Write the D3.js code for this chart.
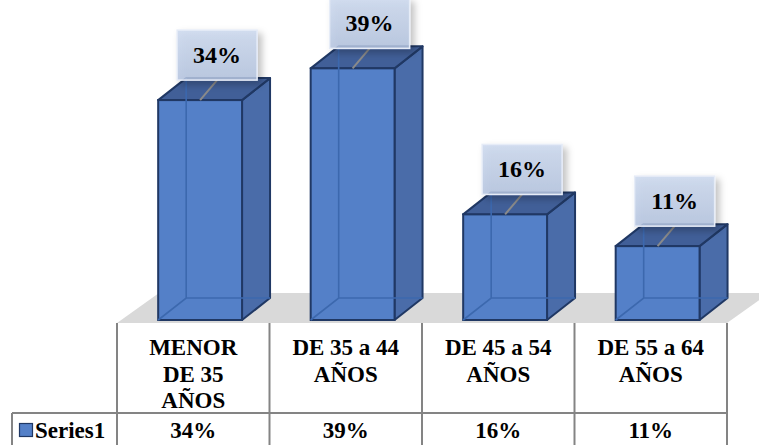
<!DOCTYPE html>
<html>
<head>
<meta charset="utf-8">
<script src="https://cdn.jsdelivr.net/npm/d3@7"></script>
<style>
  svg text, svg tspan { font-family: "Liberation Serif", "Times New Roman", serif !important; font-weight: bold !important; }
</style>
</head>
<body style="margin:0">
<svg id="chart" width="759" height="445" style="display:block"></svg>
<script>
// Age groups and their share
const categories = ["MENOR DE 35 AÑOS", "DE 35 a 44 AÑOS", "DE 45 a 54 AÑOS", "DE 55 a 64 AÑOS"];
const seriesName = "Series1";
const values = [0.34, 0.39, 0.16, 0.11];

const W = 759, H = 445;
const svg = d3.select("#chart");
const fmt = d3.format(".0%");

// Bold serif text helper
function styleText(sel, size) {
  return sel.attr("font-size", size).attr("font-weight", "bold")
    .style("font-family", "\"Liberation Serif\"").attr("fill", "#000");
}

// Layout
const tableLeft = 12, plotLeft = 117, plotRight = 727;
const floorFront = 323, baseY = 320;
const tableRowY = 413;
const depthX = 28, depthY = 22;      // bar depth
const floorDX = 42, floorDY = 30;    // floor depth

const x = d3.scaleBand().domain(categories).range([plotLeft, plotRight]).paddingInner(0).paddingOuter(0);
const y = d3.scaleLinear().domain([0, 0.4]).range([316, 62]);
const bw = x.bandwidth();
const frontW = bw * 0.55;
const frontOff = bw * 0.27;

// Defs: label shadow and label gradient
const defs = svg.append("defs");
const f = defs.append("filter").attr("id", "shadow").attr("x", "-30%").attr("y", "-30%").attr("width", "170%").attr("height", "170%");
f.append("feDropShadow").attr("dx", 4).attr("dy", 4).attr("stdDeviation", 3.5)
  .attr("flood-color", "#000").attr("flood-opacity", 0.28);
const g = defs.append("linearGradient").attr("id", "lblGrad").attr("x1", 0).attr("y1", 0).attr("x2", 0).attr("y2", 1);
g.append("stop").attr("offset", "0%").attr("stop-color", "#cbd8ee");
g.append("stop").attr("offset", "100%").attr("stop-color", "#b3c3df");

// Floor
svg.append("path")
  .attr("d", `M${plotLeft},${floorFront} L${plotRight},${floorFront} L${plotRight + floorDX},${floorFront - floorDY} L${plotLeft + floorDX},${floorFront - floorDY} Z`)
  .attr("fill", "#d9d9d9");

// Bars
const edge = "#203864";
const bars = svg.append("g").selectAll("g").data(categories).join("g");
bars.each(function (c, i) {
  const gb = d3.select(this);
  const x0 = x(c) + frontOff, x1 = x0 + frontW;
  const yt = y(values[i]), yb = baseY;
  // side face
  gb.append("path")
    .attr("d", `M${x1},${yb} L${x1 + depthX},${yb - depthY} L${x1 + depthX},${yt - depthY} L${x1},${yt} Z`)
    .attr("fill", "#4a6ca9").attr("stroke", edge).attr("stroke-width", 2).attr("stroke-linejoin", "round");
  // top face
  gb.append("path")
    .attr("d", `M${x0},${yt} L${x1},${yt} L${x1 + depthX},${yt - depthY} L${x0 + depthX},${yt - depthY} Z`)
    .attr("fill", "#415f98").attr("stroke", edge).attr("stroke-width", 2).attr("stroke-linejoin", "round");
  // front face
  gb.append("rect")
    .attr("x", x0).attr("y", yt).attr("width", frontW).attr("height", yb - yt)
    .attr("fill", "#5480c8").attr("stroke", edge).attr("stroke-width", 2);
  // back edges seen through the translucent box
  gb.append("path")
    .attr("d", `M${x0},${yb} L${x0 + depthX},${yb - depthY} L${x1 + depthX},${yb - depthY} M${x0 + depthX},${yb - depthY} L${x0 + depthX},${yt - depthY}`)
    .attr("fill", "none").attr("stroke", "#3c68ae").attr("stroke-width", 1.6);
});

// Data labels with leader lines
const boxW = 80, boxH = 50, boxDX = 17, gap = 20;
const labels = svg.append("g").selectAll("g").data(categories).join("g");
labels.each(function (c, i) {
  const gl = d3.select(this);
  const cx = x(c) + frontOff + frontW / 2;
  const yt = y(values[i]);
  const bx = cx + boxDX, by = yt - gap;
  gl.append("line")
    .attr("x1", cx).attr("y1", yt).attr("x2", bx).attr("y2", by)
    .attr("stroke", "#8a8a8a").attr("stroke-width", 2);
  gl.append("rect")
    .attr("x", bx - boxW / 2).attr("y", by - boxH).attr("width", boxW).attr("height", boxH)
    .attr("fill", "url(#lblGrad)").attr("fill-opacity", 0.85)
    .attr("stroke", "#e6ecf7").attr("stroke-width", 1.5)
    .attr("filter", "url(#shadow)");
  styleText(gl.append("text"), 24)
    .attr("x", bx).attr("y", by - boxH / 2 + 8)
    .attr("text-anchor", "middle")
    .text(fmt(values[i]));
});

// Data table
const grid = "#848484";
const tbl = svg.append("g");
tbl.selectAll("line.v").data(categories.concat([null])).join("line")
  .attr("class", "v")
  .attr("x1", (d, i) => i < categories.length ? x(d) : plotRight)
  .attr("x2", (d, i) => i < categories.length ? x(d) : plotRight)
  .attr("y1", floorFront).attr("y2", H)
  .attr("stroke", grid).attr("stroke-width", 2);
tbl.append("line").attr("x1", tableLeft).attr("x2", plotRight).attr("y1", tableRowY).attr("y2", tableRowY)
  .attr("stroke", grid).attr("stroke-width", 2);
tbl.append("line").attr("x1", tableLeft).attr("x2", tableLeft).attr("y1", tableRowY).attr("y2", H)
  .attr("stroke", grid).attr("stroke-width", 2);

// Category headers, wrapped to the column width
const lineH = 26.5;
styleText(tbl.selectAll("text.cat").data(categories).join("text"), 23)
  .attr("class", "cat")
  .attr("text-anchor", "middle")
  .each(function (c) {
    const t = d3.select(this);
    const words = c.split(" ");
    const maxW = bw * 0.76;
    let lines = [], cur = [];
    const probe = t.append("tspan");
    words.forEach(w => {
      const trial = cur.concat([w]).join(" ");
      probe.text(trial);
      if (probe.node().getComputedTextLength() > maxW && cur.length) {
        lines.push(cur.join(" "));
        cur = [w];
      } else cur.push(w);
    });
    lines.push(cur.join(" "));
    probe.remove();
    lines.forEach((ln, k) => {
      t.append("tspan").attr("x", x(c) + bw / 2).attr("y", 355 + k * lineH).text(ln);
    });
  });

// Value row
styleText(tbl.selectAll("text.val").data(categories).join("text"), 23)
  .attr("class", "val")
  .attr("x", c => x(c) + bw / 2).attr("y", 438)
  .attr("text-anchor", "middle")
  .text((c, i) => fmt(values[i]));

// Legend key and series name
tbl.append("rect").attr("x", 19.5).attr("y", 423.5).attr("width", 13).attr("height", 13)
  .attr("fill", "#5480c8").attr("stroke", edge).attr("stroke-width", 1.2);
styleText(tbl.append("text"), 23).attr("x", 35).attr("y", 438).text(seriesName);
</script>
</body>
</html>
